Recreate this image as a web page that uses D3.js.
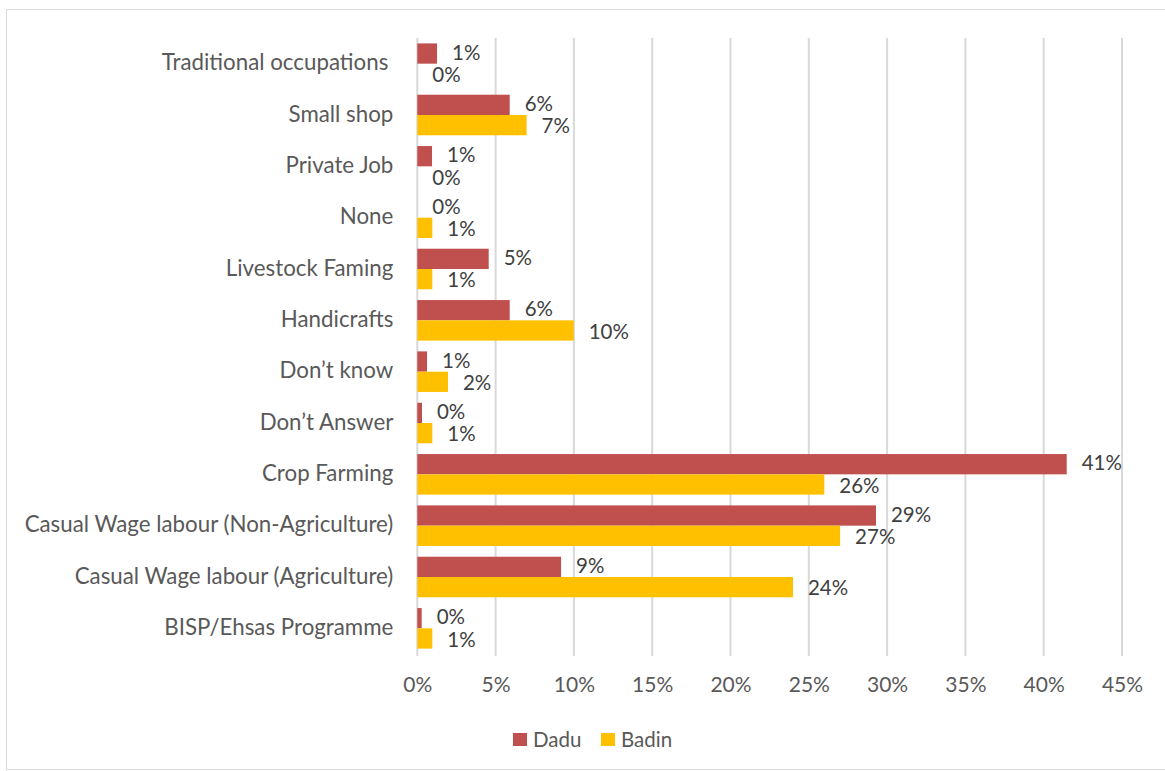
<!DOCTYPE html>
<html><head><meta charset="utf-8">
<script src="https://cdn.jsdelivr.net/npm/d3@7"></script>
<style>body{margin:0;background:#fff}svg{display:block}text{font-family:Lato,"Open Sans",sans-serif}</style>
</head><body><svg id="c" width="1165" height="771"></svg>
<script>
const categories = ["Traditional occupations","Small shop","Private Job","None","Livestock Faming","Handicrafts","Don\u2019t know","Don\u2019t Answer","Crop Farming","Casual Wage labour (Non-Agriculture)","Casual Wage labour (Agriculture)","BISP/Ehsas Programme"];
const dadu  = [0.0126,0.059,0.0094,0.0,0.0456,0.059,0.0062,0.003,0.4147,0.2929,0.0918,0.0028];
const badin = [0.0,0.0698,0.0,0.0096,0.0096,0.0999,0.0196,0.0096,0.2599,0.270,0.2399,0.0096];
const seriesNames = ["Dadu","Badin"];
const seriesColors = ["#C0504D","#FFC000"];
const xTicks = [0,0.05,0.10,0.15,0.20,0.25,0.30,0.35,0.40,0.45];

(function(){
const svg = d3.select("#c");
svg.append("rect").attr("x",6.5).attr("y",9.5).attr("width",1170).attr("height",760)
  .attr("fill","#fff").attr("stroke","#d9d9d9").attr("stroke-width",1);

const pL=417.3, pR=1122, pT=38, pB=654;
const x = d3.scaleLinear().domain([0,0.45]).range([pL,pR]);
const y = d3.scaleBand().domain(categories).range([pT,pB]).paddingInner(0.21).paddingOuter(0.105);
const sub = d3.scaleBand().domain(seriesNames).range([0,y.bandwidth()]);

svg.append("g").selectAll("line").data(xTicks).join("line")
  .attr("x1",d=>x(d)).attr("x2",d=>x(d)).attr("y1",pT).attr("y2",pB+2)
  .attr("stroke","#d9d9d9").attr("stroke-width",2);

const xa = svg.append("g").attr("transform",`translate(0,${pB})`)
  .call(d3.axisBottom(x).tickValues(xTicks).tickFormat(d3.format(".0%")).tickSize(0).tickPadding(23));
xa.select(".domain").remove();
xa.selectAll("text").attr("font-size",21).attr("fill","#595959").style("font-family","Lato,'Open Sans',sans-serif");

const ya = svg.append("g").attr("transform",`translate(${pL-24},0)`)
  .call(d3.axisLeft(y).tickSize(0).tickPadding(0));
ya.select(".domain").remove();
ya.selectAll("text").attr("font-size",22.3).attr("fill","#595959").style("font-family","Lato,'Open Sans',sans-serif")
  .attr("dy","0.3em")
  .attr("dx", d=> d==="Traditional occupations" ? -5 : 0);

const rows = categories.map((c,i)=>({c, vals:[dadu[i],badin[i]]}));
const g = svg.append("g");
rows.forEach(r=>{
  r.vals.forEach((v,j)=>{
    const yy = y(r.c)+sub(seriesNames[j]);
    g.append("rect").attr("x",x(0)).attr("y",yy).attr("width",x(v)-x(0)).attr("height",sub.bandwidth())
      .attr("fill",seriesColors[j]);
    g.append("text").attr("x",x(v)+15).attr("y",yy+sub.bandwidth()/2 + (j===0?-1:1)).attr("dy","0.35em")
      .attr("font-size",20.5).attr("fill","#404040").text(d3.format(".0%")(v));
  });
});

const lg = svg.append("g");
const lx=[513,601];
seriesNames.forEach((s,i)=>{
  lg.append("rect").attr("x",lx[i]).attr("y",733).attr("width",14).attr("height",13).attr("fill",seriesColors[i]);
  lg.append("text").attr("x",lx[i]+20).attr("y",740).attr("dy","0.35em").attr("font-size",20.5).attr("fill","#595959").text(s);
});
})();
</script></body></html>
